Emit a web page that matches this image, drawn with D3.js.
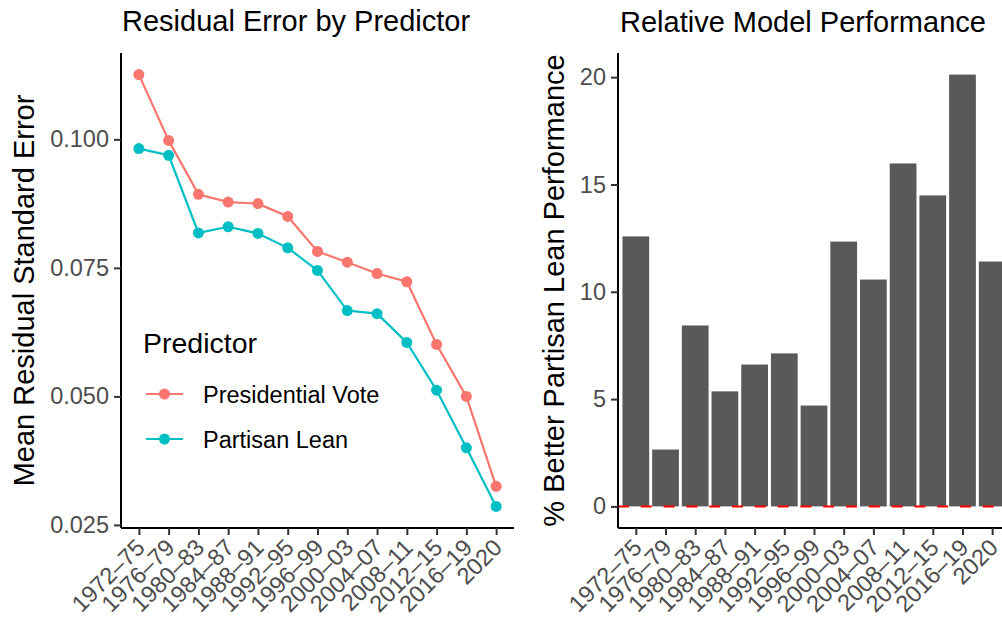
<!DOCTYPE html>
<html>
<head>
<meta charset="utf-8">
<script src="https://cdn.jsdelivr.net/npm/d3@7"></script>
<style>
  body { margin: 0; background: #fff; }
  svg { display: block; font-family: "Liberation Sans", Arial, Helvetica, sans-serif; }
</style>
</head>
<body>
<svg id="chart" width="1002" height="617"></svg>
<script>
// Redistricting periods (x categories)
const periods = ["1972–75", "1976–79", "1980–83", "1984–87", "1988–91", "1992–95",
                 "1996–99", "2000–03", "2004–07", "2008–11", "2012–15", "2016–19", "2020"];

// Mean residual standard error for each predictor
const presidentialVote = [0.1126, 0.0998, 0.0893, 0.0878, 0.0875, 0.0850, 0.0782,
                          0.0761, 0.0739, 0.0723, 0.0601, 0.0500, 0.0325];
const partisanLean     = [0.0982, 0.0969, 0.0818, 0.0830, 0.0817, 0.0789, 0.0745,
                          0.0667, 0.0661, 0.0605, 0.0512, 0.0400, 0.0286];

// Percent improvement of the partisan lean model
const pctBetter = [12.58, 2.65, 8.43, 5.36, 6.61, 7.13, 4.70, 12.34, 10.57, 15.98, 14.49, 20.12, 11.41];

// Axis ticks
const leftTicks  = [0.025, 0.050, 0.075, 0.100];
const rightTicks = [0, 5, 10, 15, 20];

const seriesNames  = ["Presidential Vote", "Partisan Lean"];
const seriesColors = ["#F8766D", "#00BFC4"];

const svg = d3.select("#chart");
const TEXT_GREY = "#4D4D4D";
const TICK_FONT = 23.5;
const TITLE_FONT = 29;

const panelTop = 53, panelBottom = 528;

// ggplot-like 5% expansion of a continuous range
function expand(lo, hi) {
  const pad = (hi - lo) * 0.05;
  return [lo - pad, hi + pad];
}

function drawAxes(g, x, y, left, right, ticks, fmt) {
  // y axis
  const ya = g.append("g").attr("transform", `translate(${left},0)`)
    .call(d3.axisLeft(y).tickValues(ticks).tickFormat(fmt).tickSize(7).tickPadding(5));
  ya.select(".domain").attr("d", `M0,${panelTop}V${panelBottom}`).attr("stroke", "#000").attr("stroke-width", 2);
  ya.selectAll(".tick line").attr("stroke", "#333").attr("stroke-width", 2);
  ya.selectAll(".tick text").attr("fill", TEXT_GREY).style("font-size", TICK_FONT + "px")
    .style("font-family", "inherit");

  // x axis with labels turned 45 degrees
  const xa = g.append("g").attr("transform", `translate(0,${panelBottom})`)
    .call(d3.axisBottom(x).tickSize(7).tickPadding(0));
  xa.select(".domain").attr("d", `M${left},0H${right}`).attr("stroke", "#000").attr("stroke-width", 2);
  xa.selectAll(".tick line").attr("stroke", "#333").attr("stroke-width", 2);
  xa.selectAll(".tick text")
    .attr("fill", TEXT_GREY).style("font-size", TICK_FONT + "px").style("font-family", "inherit")
    .attr("text-anchor", "end")
    .attr("y", 0).attr("dy", 0)
    .attr("transform", "translate(-3,11) rotate(-45) translate(0,14)");
}

// ---------- Left panel: residual error lines ----------
{
  const left = 121, right = 514;
  const g = svg.append("g");
  const x = d3.scalePoint().domain(periods).range([left, right]).padding(0.6);
  const all = presidentialVote.concat(partisanLean);
  const y = d3.scaleLinear().domain(expand(d3.min(all), d3.max(all))).range([panelBottom, panelTop]);

  drawAxes(g, x, y, left, right, leftTicks, d3.format(".3f"));

  const series = [presidentialVote, partisanLean];
  const line = d3.line().x((d, i) => x(periods[i])).y(d => y(d));
  series.forEach((vals, s) => {
    g.append("path").datum(vals).attr("d", line)
      .attr("fill", "none").attr("stroke", seriesColors[s]).attr("stroke-width", 2.2);
    g.selectAll(null).data(vals).join("circle")
      .attr("cx", (d, i) => x(periods[i])).attr("cy", d => y(d)).attr("r", 5.5)
      .attr("fill", seriesColors[s]);
  });

  g.append("text").attr("x", 122).attr("y", 31).style("font-size", TITLE_FONT + "px")
    .text("Residual Error by Predictor");
  g.append("text").attr("transform", `translate(34,${(panelTop + panelBottom) / 2}) rotate(-90)`)
    .attr("text-anchor", "middle").style("font-size", TITLE_FONT + "px")
    .text("Mean Residual Standard Error");

  // Legend
  const lg = g.append("g");
  lg.append("text").attr("x", 143).attr("y", 353).style("font-size", "28.5px").text("Predictor");
  seriesNames.forEach((name, s) => {
    const ky = 394 + s * 45;
    lg.append("line").attr("x1", 146).attr("x2", 183).attr("y1", ky).attr("y2", ky)
      .attr("stroke", seriesColors[s]).attr("stroke-width", 2.2);
    lg.append("circle").attr("cx", 164.5).attr("cy", ky).attr("r", 5.5).attr("fill", seriesColors[s]);
    lg.append("text").attr("x", 203).attr("y", ky + 8.5).style("font-size", TICK_FONT + "px").text(name);
  });
}

// ---------- Right panel: relative performance bars ----------
{
  const left = 618, right = 1010;
  const g = svg.append("g");
  const x = d3.scalePoint().domain(periods).range([left, right]).padding(0.6);
  const y = d3.scaleLinear().domain(expand(Math.min(0, d3.min(pctBetter)), d3.max(pctBetter)))
    .range([panelBottom, panelTop]);
  const bw = x.step() * 0.9;

  g.selectAll("rect").data(pctBetter).join("rect")
    .attr("x", (d, i) => x(periods[i]) - bw / 2)
    .attr("width", bw)
    .attr("y", d => y(d))
    .attr("height", d => y(0) - y(d))
    .attr("fill", "#595959");

  // zero reference line
  g.append("line").attr("x1", left).attr("x2", right).attr("y1", y(0)).attr("y2", y(0))
    .attr("stroke", "#FF0000").attr("stroke-width", 2).attr("stroke-dasharray", "11,11.8");

  drawAxes(g, x, y, left, right, rightTicks, d3.format("d"));

  g.append("text").attr("x", 620).attr("y", 32).style("font-size", TITLE_FONT + "px")
    .text("Relative Model Performance");
  g.append("text").attr("transform", `translate(564,${(panelTop + panelBottom) / 2}) rotate(-90)`)
    .attr("text-anchor", "middle").style("font-size", TITLE_FONT + "px")
    .text("% Better Partisan Lean Performance");
}
</script>
</body>
</html>
